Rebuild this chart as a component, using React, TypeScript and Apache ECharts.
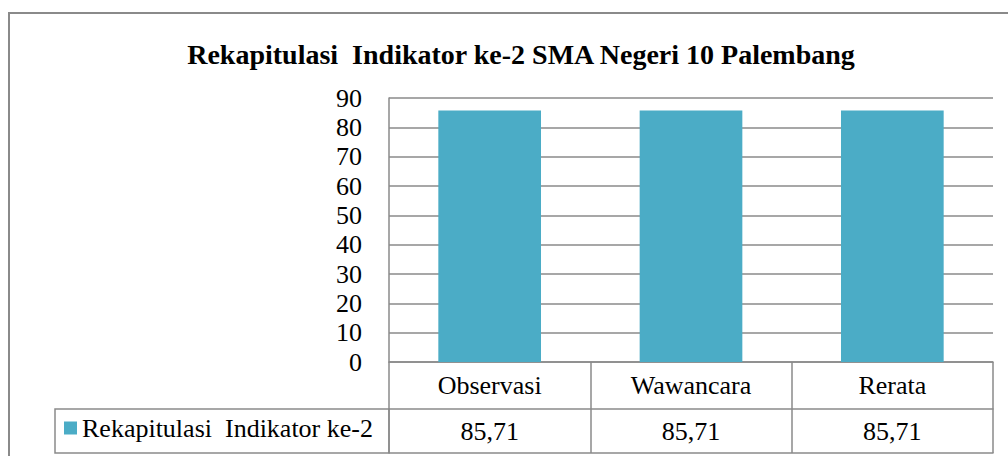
import React, { useEffect, useRef } from "react";
import * as echarts from "echarts";

const titleText = "Rekapitulasi  Indikator ke-2 SMA Negeri 10 Palembang";
const seriesName = "Rekapitulasi  Indikator ke-2";
const categories = ["Observasi", "Wawancara", "Rerata"];
const values = [85.71, 85.71, 85.71];
const yMin = 0;
const yMax = 90;
const yStep = 10;

const FONT = "'Liberation Serif', 'Times New Roman', serif";
const GRID = "#8a8a8a";
const BAR = "#4BACC6";

export default function App() {
  const ref = useRef<HTMLDivElement>(null);
  useEffect(() => {
    if (!ref.current) return;
    const chart = echarts.init(ref.current, null, { renderer: "svg" });
    const valueLabels = values.map((v) => v.toFixed(2).replace(".", ","));
    chart.setOption({
      animation: false,
      backgroundColor: "#ffffff",
      textStyle: { fontFamily: FONT },
      title: {
        text: titleText,
        left: 516,
        top: 35,
        textAlign: "center",
        textStyle: { fontFamily: FONT, fontSize: 28, fontWeight: "bold", color: "#000" },
      },
      legend: {
        data: [seriesName],
        left: 64,
        top: 415,
        icon: "rect",
        itemWidth: 13,
        itemHeight: 13,
        itemGap: 5,
        textStyle: { fontFamily: FONT, fontSize: 26, color: "#000", padding: [0, 0, 0, 0] },
        padding: 0,
        selectedMode: false,
      },
      grid: { left: 389, top: 98, right: 15, bottom: 94, containLabel: false },
      xAxis: [
        {
          type: "category",
          data: categories,
          position: "bottom",
          axisLine: { show: true, lineStyle: { color: GRID, width: 1.5 } },
          axisTick: { show: true, interval: 0, length: 47, lineStyle: { color: GRID, width: 1.5 } },
          axisLabel: {
            interval: 0,
            margin: 23,
            verticalAlign: "middle",
            fontFamily: FONT,
            fontSize: 26,
            color: "#000",
          },
        },
        {
          type: "category",
          data: valueLabels,
          position: "bottom",
          offset: 47,
          axisLine: { show: true, lineStyle: { color: GRID, width: 1.5 } },
          axisTick: { show: true, interval: 0, length: 44, lineStyle: { color: GRID, width: 1.5 } },
          axisLabel: {
            interval: 0,
            margin: 22,
            verticalAlign: "middle",
            fontFamily: FONT,
            fontSize: 26,
            color: "#000",
          },
        },
        {
          type: "category",
          data: categories,
          position: "bottom",
          offset: 91,
          axisLine: { show: true, lineStyle: { color: GRID, width: 1.5 } },
          axisTick: { show: false },
          axisLabel: { show: false },
        },
      ],
      yAxis: {
        type: "value",
        min: yMin,
        max: yMax,
        interval: yStep,
        axisLine: { show: true, lineStyle: { color: GRID, width: 1.5 } },
        axisTick: { show: false },
        splitLine: { show: true, lineStyle: { color: GRID, width: 1.5 } },
        axisLabel: { margin: 27, fontFamily: FONT, fontSize: 26, color: "#000" },
      },
      series: [
        {
          name: seriesName,
          type: "bar",
          data: values,
          barWidth: "51%",
          itemStyle: { color: BAR },
        },
      ],
      graphic: [
        {
          type: "rect",
          shape: { x: 9, y: 13, width: 1200, height: 600 },
          style: { fill: "none", stroke: GRID, lineWidth: 2 },
          silent: true,
        },
        {
          type: "rect",
          shape: { x: 55, y: 409, width: 334, height: 44 },
          style: { fill: "none", stroke: GRID, lineWidth: 1.5 },
          silent: true,
        },
      ],
    });
    return () => chart.dispose();
  }, []);
  return (
    <div
      ref={ref}
      style={{ position: "absolute", left: 0, top: 0, width: 1008, height: 456 }}
    />
  );
}
